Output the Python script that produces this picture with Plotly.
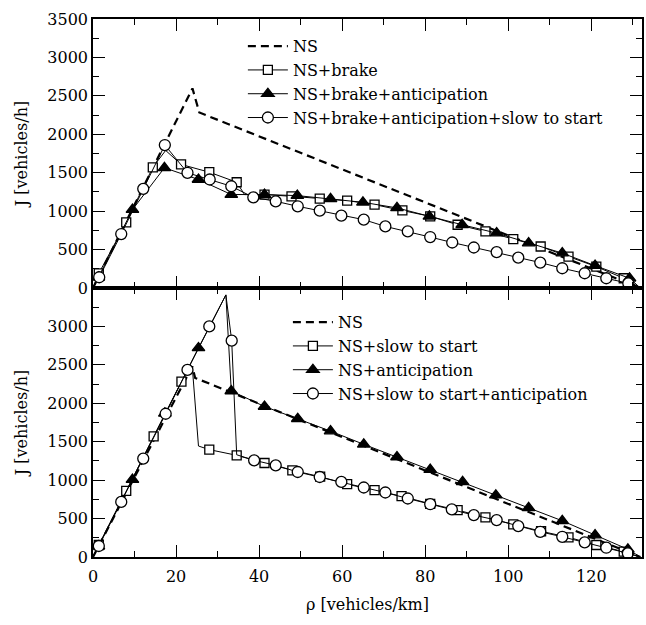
import plotly.graph_objects as go
from plotly.subplots import make_subplots

# ---------------- data ----------------
x_range = [0, 132.2]
y_range = [0, 3500]
x_major = 20
x_minor = 10
y_minor = 250
top_yticks = [0, 500, 1000, 1500, 2000, 2500, 3000, 3500]
bot_yticks = [0, 500, 1000, 1500, 2000, 2500, 3000]

top_names = ["NS", "NS+brake", "NS+brake+anticipation", "NS+brake+anticipation+slow to start"]
bot_names = ["NS", "NS+slow to start", "NS+anticipation", "NS+slow to start+anticipation"]

# top panel
top_ns_x = [0, 23.95, 25.6, 131.8]
top_ns_y = [0, 2597, 2283, 0]

top_sq_x = [0, 1.4, 8.0, 14.4, 17.5, 21.2, 28.0, 34.6, 36.5, 41.3, 47.8, 54.6, 61.2, 67.8, 74.5,
            81.2, 87.8, 94.5, 101.2, 107.8, 114.5, 121.2, 127.8, 131.8]
top_sq_y = [0, 190, 853, 1570, 1790, 1608, 1507, 1376, 1215, 1216, 1193, 1163, 1137, 1085, 1010,
            932, 823, 736, 637, 540, 409, 278, 127, 0]
top_sq_mk = [0, 1, 1, 1, 0, 1, 1, 1, 0, 1, 1, 1, 1, 1, 1, 1, 1, 1, 1, 1, 1, 1, 1, 0]

top_tr_x = [0, 1.3, 9.5, 17.2, 25.4, 33.3, 41.3, 49.2, 57.2, 65.0, 73.2, 81.0, 88.9, 97.2, 104.9,
            113.0, 120.9, 129.2, 131.8]
top_tr_y = [0, 140, 1019, 1564, 1412, 1216, 1216, 1202, 1159, 1115, 1042, 932, 823, 714, 584,
            454, 291, 127, 0]
top_tr_mk = [0, 1, 1, 1, 1, 1, 1, 1, 1, 1, 1, 1, 1, 1, 1, 1, 1, 1, 0]

top_ci_x = [0, 1.5, 6.8, 12.1, 17.3, 22.75, 28.1, 33.3, 38.6, 44.0, 49.3, 54.6, 59.8, 65.2, 70.4,
            75.8, 81.2, 86.5, 91.7, 97.2, 102.4, 107.7, 113.0, 118.4, 123.6, 128.9, 131.8]
top_ci_y = [0, 140, 702, 1290, 1860, 1499, 1412, 1324, 1180, 1128, 1063, 1006, 941, 889, 801,
            736, 663, 592, 527, 467, 396, 331, 257, 192, 127, 61, 0]
top_ci_mk = [0] + [1] * 25 + [0]

# bottom panel
bot_ns_x = [0, 23.9, 24.6, 131.8]
bot_ns_y = [0, 2480, 2330, 0]

bot_sq_x = [0, 1.4, 8.0, 14.6, 21.3, 23.9, 25.4, 28.0, 34.6, 41.3, 48.0, 54.7, 61.2, 67.8, 74.3,
            81.2, 87.8, 94.5, 101.2, 107.9, 114.5, 121.2, 127.8, 131.8]
bot_sq_y = [0, 156, 860, 1569, 2283, 2477, 1444, 1397, 1323, 1223, 1128, 1045, 947, 869, 791,
            692, 610, 515, 424, 335, 256, 156, 69, 0]
bot_sq_mk = [0, 1, 1, 1, 1, 0, 0, 1, 1, 1, 1, 1, 1, 1, 1, 1, 1, 1, 1, 1, 1, 1, 1, 0]

bot_tr_x = [0, 1.3, 9.5, 17.3, 25.4, 32.0, 33.3, 41.3, 49.3, 57.2, 65.2, 73.2, 81.2, 89.0, 97.0,
            104.9, 113.0, 120.9, 128.8, 131.8]
bot_tr_y = [0, 140, 1008, 1868, 2720, 3410, 2160, 1958, 1799, 1638, 1466, 1301, 1137, 977, 804,
            639, 471, 285, 100, 0]
bot_tr_mk = [0, 1, 1, 1, 1, 0, 1, 1, 1, 1, 1, 1, 1, 1, 1, 1, 1, 1, 1, 0]

bot_ci_x = [0, 1.4, 6.8, 12.1, 17.5, 22.75, 28.0, 32.0, 33.4, 34.6, 38.8, 44.0, 49.3, 54.6, 59.8,
            65.2, 70.4, 75.8, 81.2, 86.4, 91.7, 97.2, 102.4, 107.7, 113.0, 118.4, 123.6, 128.8, 131.8]
bot_ci_y = [0, 143, 717, 1280, 1864, 2434, 3000, 3410, 2815, 1330, 1258, 1193, 1106, 1041, 977,
            904, 839, 761, 687, 619, 545, 480, 402, 328, 263, 191, 121, 48, 0]
bot_ci_mk = [0, 1, 1, 1, 1, 1, 1, 0, 1, 0] + [1] * 18 + [0]

# ---------------- figure ----------------
FONT = "DejaVu Serif, Liberation Serif, serif"
FS = 16

fig = make_subplots(rows=2, cols=1, shared_xaxes=True, vertical_spacing=0)

DASH = "8px,5px"


def add_series(row, legend, name, xs, ys, mk, symbol, fill, size, dashed=False):
    if dashed:
        line = dict(color="black", width=2.2, dash=DASH)
    else:
        line = dict(color="black", width=1)
    fig.add_trace(go.Scatter(x=xs, y=ys, mode="lines", line=line, showlegend=False,
                             hoverinfo="skip"), row=row, col=1)
    if mk is not None:
        mx = [x for x, m in zip(xs, mk) if m]
        my = [y for y, m in zip(ys, mk) if m]
        fig.add_trace(go.Scatter(x=mx, y=my, mode="markers", showlegend=False,
                                 marker=dict(symbol=symbol, size=size, color=fill,
                                             line=dict(color="black", width=1.3))),
                      row=row, col=1)
    # legend entry
    fig.add_trace(go.Scatter(x=[None], y=[None],
                             mode="lines" if mk is None else "lines+markers",
                             name=name, legend=legend, line=line,
                             marker=dict(symbol=symbol, size=size, color=fill,
                                         line=dict(color="black", width=1.3))),
                  row=row, col=1)


add_series(1, "legend", top_names[0], top_ns_x, top_ns_y, None, "circle", "white", 10, dashed=True)
add_series(1, "legend", top_names[1], top_sq_x, top_sq_y, top_sq_mk, "square", "white", 9)
add_series(1, "legend", top_names[2], top_tr_x, top_tr_y, top_tr_mk, "triangle-up", "black", 11)
add_series(1, "legend", top_names[3], top_ci_x, top_ci_y, top_ci_mk, "circle", "white", 11)

add_series(2, "legend2", bot_names[0], bot_ns_x, bot_ns_y, None, "circle", "white", 10, dashed=True)
add_series(2, "legend2", bot_names[1], bot_sq_x, bot_sq_y, bot_sq_mk, "square", "white", 9)
add_series(2, "legend2", bot_names[2], bot_tr_x, bot_tr_y, bot_tr_mk, "triangle-up", "black", 11)
add_series(2, "legend2", bot_names[3], bot_ci_x, bot_ci_y, bot_ci_mk, "circle", "white", 11)

common_axis = dict(showline=True, linecolor="black", linewidth=1.5, mirror="ticks",
                   ticks="inside", tickcolor="black", tickwidth=1.3, ticklen=12,
                   showgrid=False, zeroline=False,
                   tickfont=dict(family=FONT, size=FS, color="black"))

fig.update_xaxes(range=x_range, dtick=x_major, tick0=0,
                 minor=dict(dtick=x_minor, ticklen=6, ticks="inside", tickcolor="black",
                            tickwidth=1.3, showgrid=False),
                 **common_axis)
fig.update_xaxes(showticklabels=False, row=1, col=1)
fig.update_xaxes(ticklabelstandoff=4,
                 title=dict(text="ρ [vehicles/km]", font=dict(family=FONT, size=FS, color="black"),
                            standoff=14), row=2, col=1)

fig.update_yaxes(range=y_range,
                 minor=dict(dtick=y_minor, ticklen=6, ticks="inside", tickcolor="black",
                            tickwidth=1.3, showgrid=False),
                 title=dict(text="J [vehicles/h]", font=dict(family=FONT, size=FS, color="black"),
                            standoff=16),
                 **common_axis)
fig.update_yaxes(tickvals=top_yticks, row=1, col=1)
fig.update_yaxes(tickvals=bot_yticks, row=2, col=1)

legend_style = dict(font=dict(family=FONT, size=FS, color="black"), bgcolor="rgba(0,0,0,0)",
                    borderwidth=0, itemwidth=40, xanchor="left", yanchor="top",
                    tracegroupgap=0)

fig.update_layout(
    width=646, height=625,
    margin=dict(l=93, r=2, t=19, b=68),
    paper_bgcolor="white", plot_bgcolor="white",
    font=dict(family=FONT, size=FS, color="black"),
    legend=dict(x=0.273, y=0.981, **legend_style),
    legend2=dict(x=0.355, y=0.468, **legend_style),
    showlegend=True,
)

fig.write_html("out.html", config={"displayModeBar": False},
               post_script="document.body.style.margin='0px';")
